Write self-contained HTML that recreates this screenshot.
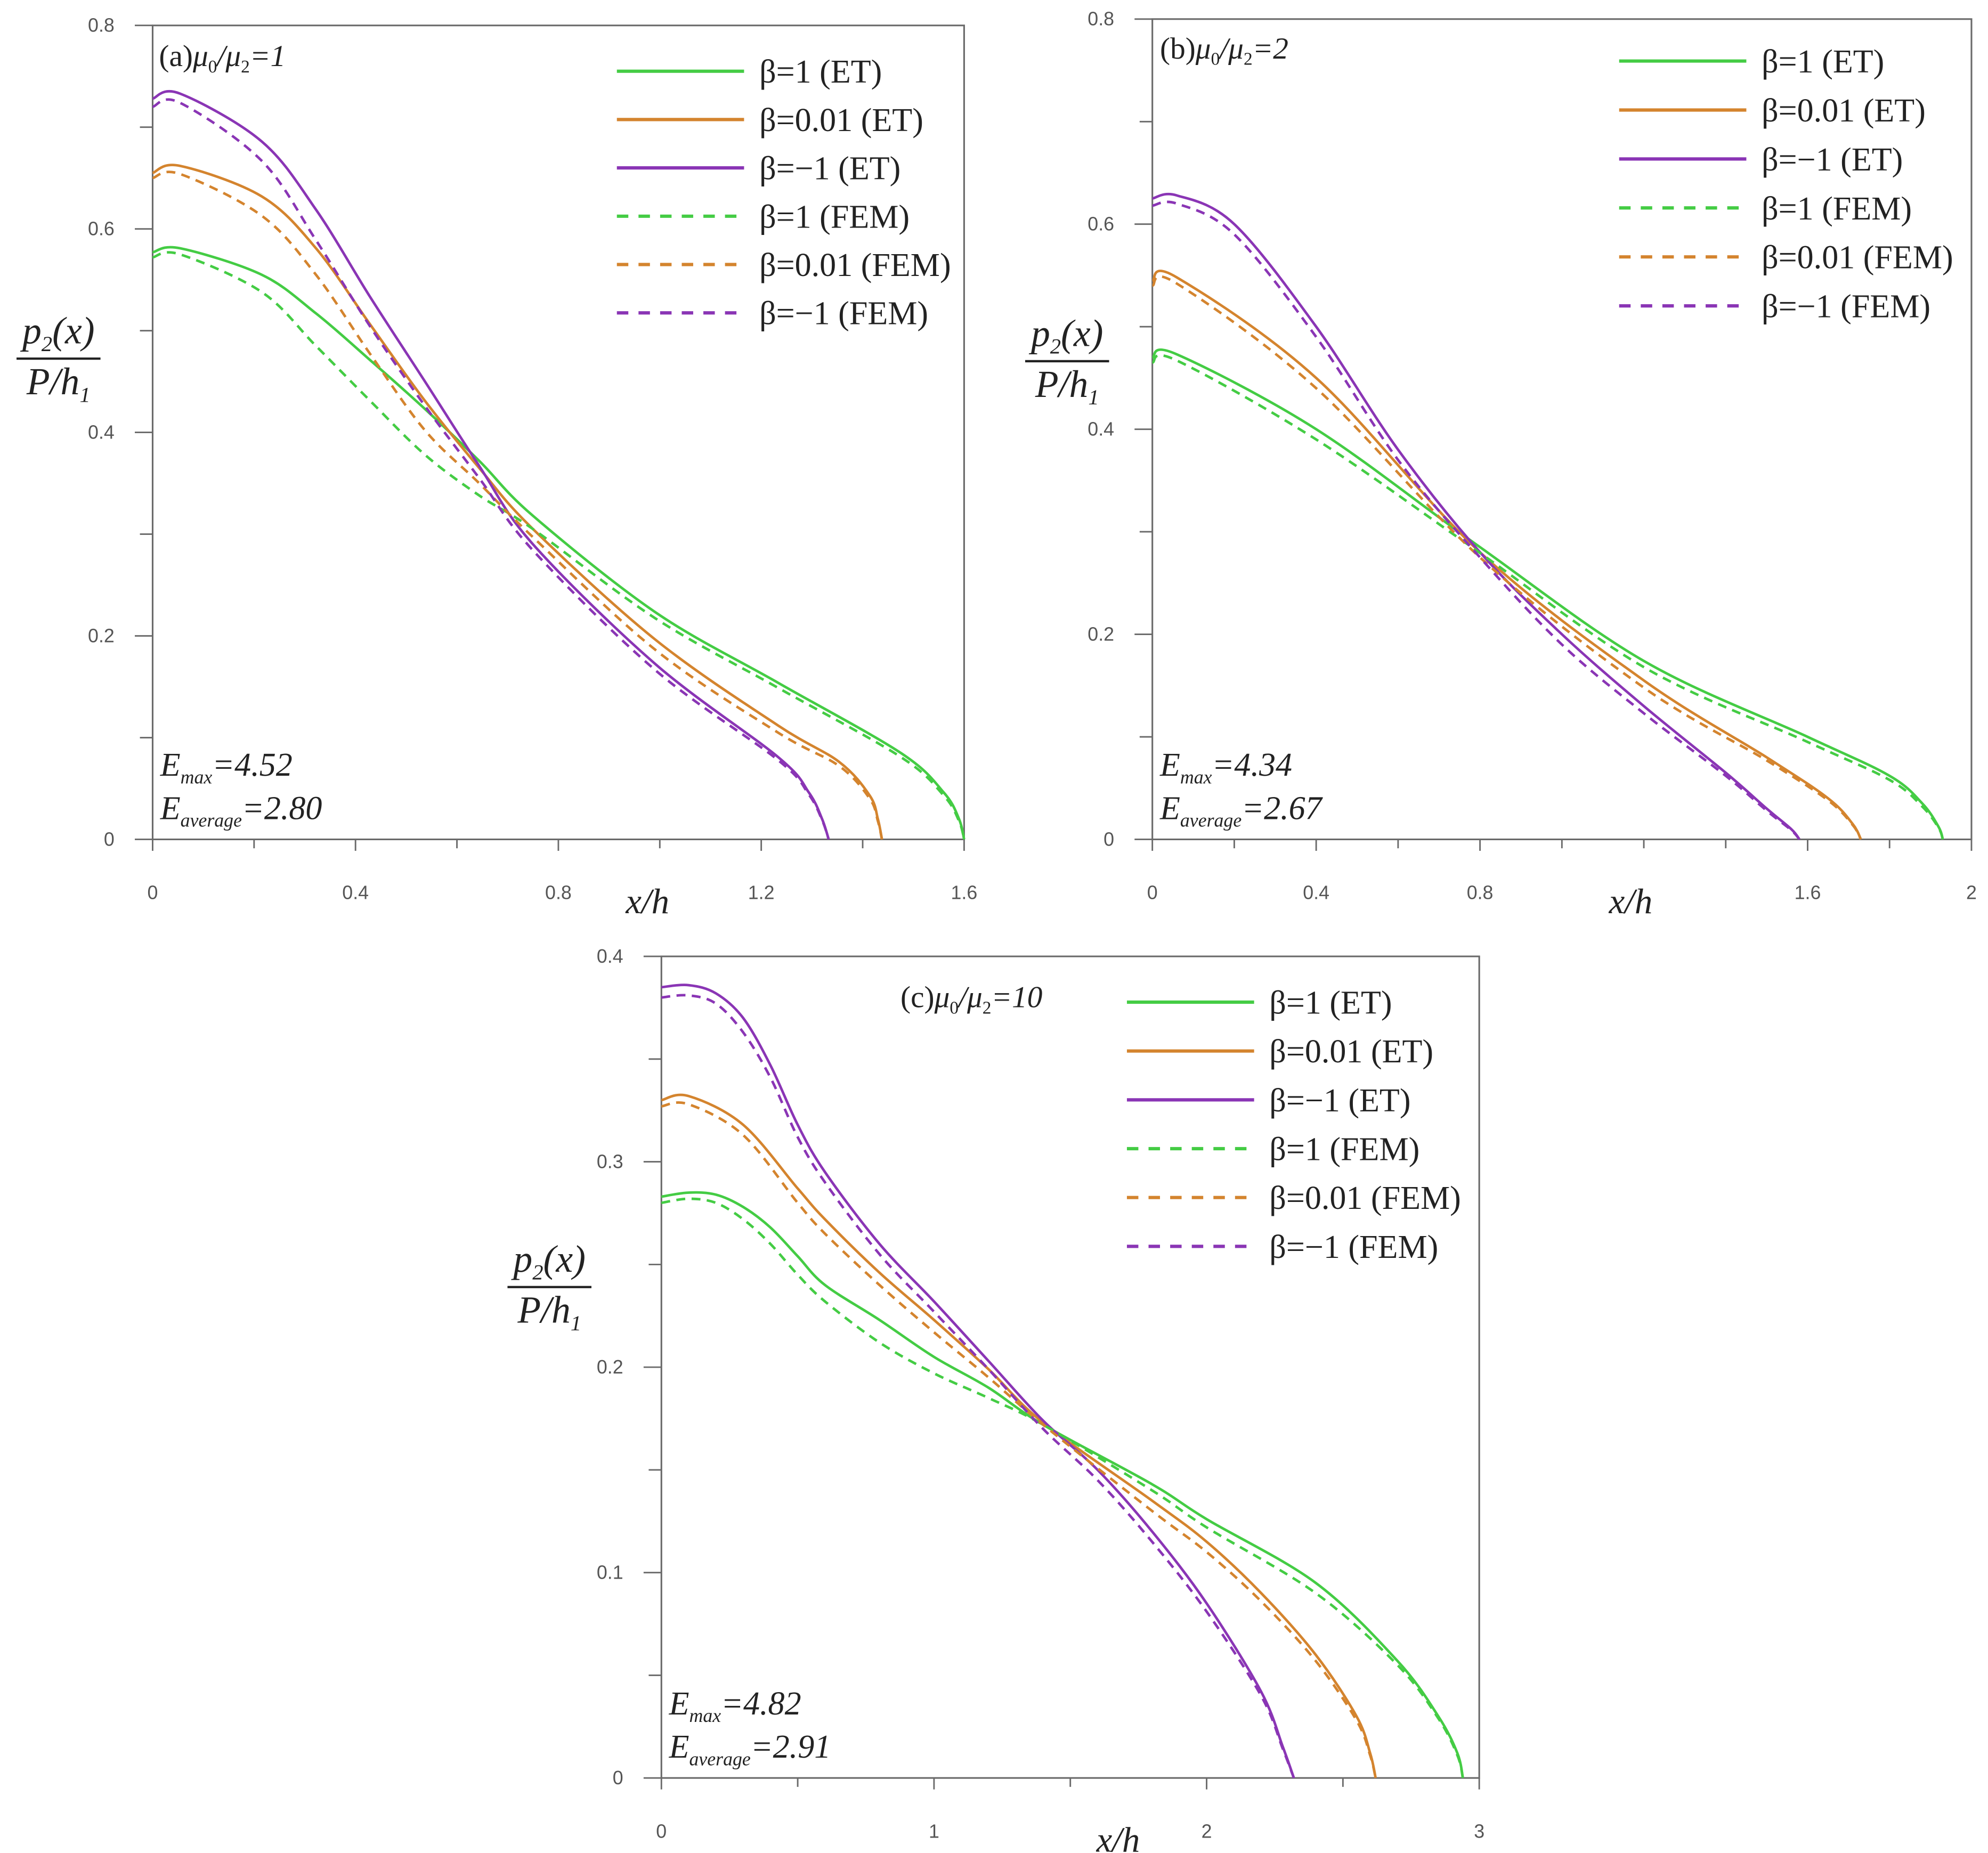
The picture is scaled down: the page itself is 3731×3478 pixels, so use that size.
<!DOCTYPE html>
<html><head><meta charset="utf-8"><style>
html,body{margin:0;padding:0;background:#fff;}
svg{display:block;}
text{font-family:"Liberation Sans",sans-serif;}
.ser{font-family:"Liberation Serif",serif;}
</style></head><body>
<svg id="fig" width="3731" height="3478" viewBox="0 0 1563 1457" preserveAspectRatio="none" xmlns="http://www.w3.org/2000/svg"></svg>
<script>
// ---------- data ----------
const aG_ET_x=[0,0.054,0.215,0.322,0.429,0.537,0.644,0.75,0.992,1.233,1.475,1.56,1.59,1.6];
const aG_ET_y=[0.577,0.581,0.555,0.517,0.471,0.423,0.372,0.318,0.223,0.154,0.085,0.046,0.02,0];
const aG_FE_x=[0,0.054,0.215,0.322,0.429,0.537,0.644,0.75,0.992,1.233,1.475,1.56,1.59,1.6];
const aG_FE_y=[0.572,0.575,0.538,0.485,0.431,0.378,0.338,0.305,0.217,0.149,0.081,0.043,0.018,0];
const aO_ET_x=[0,0.054,0.215,0.322,0.429,0.537,0.644,0.75,0.992,1.233,1.354,1.414,1.43,1.438];
const aO_ET_y=[0.655,0.662,0.632,0.581,0.506,0.431,0.365,0.305,0.196,0.112,0.076,0.043,0.02,0];
const aO_FE_x=[0,0.054,0.215,0.322,0.429,0.537,0.644,0.75,0.992,1.233,1.354,1.414,1.43,1.438];
const aO_FE_y=[0.65,0.654,0.613,0.555,0.477,0.402,0.35,0.297,0.186,0.105,0.072,0.04,0.018,0];
const aP_ET_x=[0,0.054,0.215,0.322,0.429,0.537,0.644,0.75,0.992,1.233,1.294,1.32,1.333];
const aP_ET_y=[0.728,0.733,0.686,0.619,0.533,0.45,0.367,0.29,0.172,0.081,0.046,0.02,0];
const aP_FE_x=[0,0.054,0.215,0.322,0.429,0.537,0.644,0.75,0.992,1.233,1.294,1.32,1.333];
const aP_FE_y=[0.72,0.724,0.667,0.589,0.504,0.426,0.355,0.284,0.166,0.078,0.044,0.019,0];

const bG_ET_x=[0,0.06,0.4,0.8,1.2,1.6,1.8,1.88,1.92,1.93];
const bG_ET_y=[0.47,0.473,0.40,0.285,0.174,0.10,0.062,0.035,0.012,0];
const bG_FE_x=[0,0.06,0.4,0.78,1.2,1.6,1.8,1.88,1.92,1.93];
const bG_FE_y=[0.465,0.467,0.39,0.285,0.168,0.095,0.058,0.032,0.011,0];
const bO_ET_x=[0,0.06,0.4,0.8,1.2,1.5,1.65,1.71,1.73];
const bO_ET_y=[0.545,0.548,0.45,0.28,0.155,0.08,0.04,0.015,0];
const bO_FE_x=[0,0.06,0.4,0.8,1.2,1.5,1.65,1.71,1.73];
const bO_FE_y=[0.54,0.542,0.44,0.275,0.148,0.077,0.038,0.014,0];
const bP_ET_x=[0,0.06,0.2,0.4,0.6,0.8,1.0,1.2,1.4,1.5,1.56,1.58];
const bP_ET_y=[0.625,0.628,0.60,0.50,0.38,0.28,0.2,0.13,0.065,0.03,0.01,0];
const bP_FE_x=[0,0.06,0.2,0.4,0.6,0.8,1.0,1.2,1.4,1.5,1.56,1.58];
const bP_FE_y=[0.618,0.62,0.59,0.49,0.37,0.275,0.19,0.123,0.062,0.028,0.009,0];

const cG_ET_x=[0,0.1,0.2,0.3,0.4,0.5,0.6,0.8,1.0,1.2,1.4,1.8,2.0,2.4,2.7,2.85,2.92,2.94];
const cG_ET_y=[0.283,0.285,0.284,0.278,0.268,0.254,0.24,0.223,0.205,0.19,0.172,0.143,0.126,0.095,0.057,0.03,0.012,0];
const cG_FE_x=[0,0.1,0.2,0.3,0.4,0.5,0.6,0.8,1.0,1.2,1.4,1.8,2.0,2.4,2.7,2.85,2.92,2.94];
const cG_FE_y=[0.28,0.282,0.28,0.272,0.26,0.245,0.232,0.212,0.197,0.185,0.172,0.14,0.122,0.09,0.055,0.029,0.011,0];
const cO_ET_x=[0,0.1,0.3,0.5,0.6,0.8,1.0,1.2,1.4,1.8,2.0,2.2,2.4,2.55,2.6,2.62];
const cO_ET_y=[0.33,0.332,0.318,0.287,0.272,0.246,0.223,0.199,0.173,0.135,0.115,0.09,0.06,0.03,0.012,0];
const cO_FE_x=[0,0.1,0.3,0.5,0.6,0.8,1.0,1.2,1.4,1.8,2.0,2.2,2.4,2.55,2.6,2.62];
const cO_FE_y=[0.327,0.328,0.313,0.28,0.265,0.24,0.217,0.195,0.172,0.13,0.11,0.086,0.057,0.028,0.011,0];
const cP_ET_x=[0,0.1,0.2,0.3,0.4,0.5,0.6,0.8,1.0,1.2,1.4,1.6,1.8,2.0,2.2,2.28,2.32];
const cP_ET_y=[0.385,0.386,0.382,0.37,0.347,0.318,0.295,0.26,0.232,0.203,0.174,0.15,0.12,0.085,0.042,0.015,0];
const cP_FE_x=[0,0.1,0.2,0.3,0.4,0.5,0.6,0.8,1.0,1.2,1.4,1.6,1.8,2.0,2.2,2.28,2.32];
const cP_FE_y=[0.38,0.381,0.377,0.363,0.341,0.312,0.29,0.255,0.227,0.199,0.17,0.145,0.115,0.081,0.04,0.014,0];

const aXTicks=["0","0.4","0.8","1.2","1.6"], aYTicks=["0","0.2","0.4","0.6","0.8"];
const bXTicks=["0","0.4","0.8","1.6","2"], bYTicks=["0","0.2","0.4","0.6","0.8"];
const cXTicks=["0","1","2","3"], cYTicks=["0","0.1","0.2","0.3","0.4"];
const legendLabels=["β=1 (ET)","β=0.01 (ET)","β=−1 (ET)","β=1 (FEM)","β=0.01 (FEM)","β=−1 (FEM)"];

// ---------- drawing ----------
const NS="http://www.w3.org/2000/svg";
const svg=document.getElementById('fig');
const GREEN="#44cc44", ORANGE="#d4842e", PURPLE="#8a35b5", AX="#6a6a6a";
function mk(tag,attrs,parent){const e=document.createElementNS(NS,tag);for(const k in attrs)e.setAttribute(k,attrs[k]);(parent||svg).appendChild(e);return e;}
function pathD(pts){
  let d="M"+pts[0][0].toFixed(2)+","+pts[0][1].toFixed(2);
  for(let i=0;i<pts.length-1;i++){
    const p0=pts[Math.max(0,i-1)],p1=pts[i],p2=pts[i+1],p3=pts[Math.min(pts.length-1,i+2)];
    const c1=[p1[0]+(p2[0]-p0[0])/6,p1[1]+(p2[1]-p0[1])/6];
    const c2=[p2[0]-(p3[0]-p1[0])/6,p2[1]-(p3[1]-p1[1])/6];
    d+=" C"+c1[0].toFixed(2)+","+c1[1].toFixed(2)+" "+c2[0].toFixed(2)+","+c2[1].toFixed(2)+" "+p2[0].toFixed(2)+","+p2[1].toFixed(2);
  }
  return d;
}
function panel(cfg){
  const g=mk('g',{});
  
  
  const sx=v=>cfg.x0+(v-cfg.xmin)/(cfg.xmax-cfg.xmin)*(cfg.x1-cfg.x0);
  const sy=v=>cfg.y0-(v-cfg.ymin)/(cfg.ymax-cfg.ymin)*(cfg.y0-cfg.y1);
  const frame=mk('rect',{x:cfg.x0,y:cfg.y1,width:cfg.x1-cfg.x0,height:cfg.y0-cfg.y1,fill:'none',stroke:AX,'stroke-width':1.3},g);
  
  
  for(let v=cfg.xmin;v<=cfg.xmax+1e-9;v+=cfg.xminor){
    const maj=cfg.xTicks.some(t=>Math.abs(parseFloat(t)-v)<1e-6);
    mk('line',{x1:sx(v),x2:sx(v),y1:cfg.y0,y2:cfg.y0+(maj?9:7),stroke:AX,'stroke-width':1.2},g);
  }
  cfg.xTicks.forEach(t=>{const e=mk('text',{x:sx(parseFloat(t)),y:cfg.y0+47,'font-size':15,fill:'#555','text-anchor':'middle'},g);e.textContent=t;
    
    });
  for(let v=cfg.ymin;v<=cfg.ymax+1e-9;v+=cfg.yminor){
    const maj=cfg.yTicks.some(t=>Math.abs(parseFloat(t)-v)<1e-6);
    mk('line',{x1:cfg.x0-(maj?14:10),x2:cfg.x0,y1:sy(v),y2:sy(v),stroke:AX,'stroke-width':1.2},g);
  }
  cfg.yTicks.forEach(t=>{const e=mk('text',{x:cfg.x0-30,y:sy(parseFloat(t))+5,'font-size':15,fill:'#555','text-anchor':'end'},g);e.textContent=t;
    
    });
  const cols=[GREEN,ORANGE,PURPLE,GREEN,ORANGE,PURPLE];
  const names=['beta1-et','beta001-et','betam1-et','beta1-fem','beta001-fem','betam1-fem'];
  cfg.series.forEach((s,i)=>{
    const pts=s[0].map((x,j)=>[sx(x),sy(s[1][j])]);
    const p=mk('path',{d:pathD(pts),fill:'none',stroke:cols[i],'stroke-width':2,'stroke-dasharray':i>=3?'7,5':'none'},g);
    
    
  });
  legendLabels.forEach((lab,i)=>{
    const y=cfg.legY+i*cfg.legDy;
    const l=mk('line',{x1:cfg.legX,x2:cfg.legX+100,y1:y,y2:y,stroke:cols[i],'stroke-width':2.6,'stroke-dasharray':i>=3?'9,8':'none'},g);
    
    
    const t=mk('text',{x:cfg.legX+112,y:y+9,'font-size':26,fill:'#222',class:'ser'},g);t.textContent=lab;
    
    
  });
  const tt=mk('text',{x:cfg.titleX,y:cfg.titleY,'font-size':24,fill:'#222',class:'ser'},g);
  tt.innerHTML='('+cfg.id+')<tspan font-style="italic">μ</tspan><tspan font-size="14" dy="5">0</tspan><tspan dy="-5" font-style="italic">/μ</tspan><tspan font-size="14" dy="5">2</tspan><tspan dy="-5" font-style="italic">='+cfg.ratio+'</tspan>';
  
  
  const e1=mk('text',{x:cfg.x0+6,y:cfg.y0-50,'font-size':26,fill:'#222',class:'ser','font-style':'italic'},g);
  e1.innerHTML='E<tspan font-size="15" dy="6">max</tspan><tspan dy="-6">='+cfg.emax+'</tspan>';
  
  
  const e2=mk('text',{x:cfg.x0+6,y:cfg.y0-16,'font-size':26,fill:'#222',class:'ser','font-style':'italic'},g);
  e2.innerHTML='E<tspan font-size="15" dy="6">average</tspan><tspan dy="-6">='+cfg.eavg+'</tspan>';
  
  
  const xl=mk('text',{x:cfg.xlabX,y:cfg.y0+58,'font-size':28,fill:'#222',class:'ser','font-style':'italic'},g);
  xl.textContent='x/h';
  
  
  const yl=mk('g',{},g);
  
  
  const n=mk('text',{x:cfg.ylabX,y:cfg.ylabY,'font-size':30,fill:'#222',class:'ser','font-style':'italic','text-anchor':'middle'},yl);
  n.innerHTML='p<tspan font-size="17" dy="6">2</tspan><tspan dy="-6">(x)</tspan>';
  mk('line',{x1:cfg.ylabX-33,x2:cfg.ylabX+33,y1:cfg.ylabY+12,y2:cfg.ylabY+12,stroke:'#222','stroke-width':1.8},yl);
  const dn=mk('text',{x:cfg.ylabX,y:cfg.ylabY+40,'font-size':30,fill:'#222',class:'ser','font-style':'italic','text-anchor':'middle'},yl);
  dn.innerHTML='P/h<tspan font-size="17" dy="6">1</tspan>';
}
panel({id:'a',ratio:'1',x0:120,x1:758,y0:660,y1:20,xmin:0,xmax:1.6,ymin:0,ymax:0.8,xminor:0.2,yminor:0.1,
  xTicks:aXTicks,yTicks:aYTicks,legX:485,legY:56,legDy:38,titleX:125,titleY:52,emax:'4.52',eavg:'2.80',xlabX:492,ylabX:46,ylabY:270,
  series:[[aG_ET_x,aG_ET_y],[aO_ET_x,aO_ET_y],[aP_ET_x,aP_ET_y],[aG_FE_x,aG_FE_y],[aO_FE_x,aO_FE_y],[aP_FE_x,aP_FE_y]]});
panel({id:'b',ratio:'2',x0:906,x1:1550,y0:660,y1:15,xmin:0,xmax:2,ymin:0,ymax:0.8,xminor:0.2,yminor:0.1,
  xTicks:bXTicks,yTicks:bYTicks,legX:1273,legY:48,legDy:38.5,titleX:912,titleY:46,emax:'4.34',eavg:'2.67',xlabX:1265,ylabX:839,ylabY:272,
  series:[[bG_ET_x,bG_ET_y],[bO_ET_x,bO_ET_y],[bP_ET_x,bP_ET_y],[bG_FE_x,bG_FE_y],[bO_FE_x,bO_FE_y],[bP_FE_x,bP_FE_y]]});
panel({id:'c',ratio:'10',x0:520,x1:1163,y0:1398,y1:752,xmin:0,xmax:3,ymin:0,ymax:0.4,xminor:0.5,yminor:0.05,
  xTicks:cXTicks,yTicks:cYTicks,legX:886,legY:788,legDy:38.4,titleX:708,titleY:792,emax:'4.82',eavg:'2.91',xlabX:862,ylabX:432,ylabY:1000,
  series:[[cG_ET_x,cG_ET_y],[cO_ET_x,cO_ET_y],[cP_ET_x,cP_ET_y],[cG_FE_x,cG_FE_y],[cO_FE_x,cO_FE_y],[cP_FE_x,cP_FE_y]]});
</script>
</body></html>
